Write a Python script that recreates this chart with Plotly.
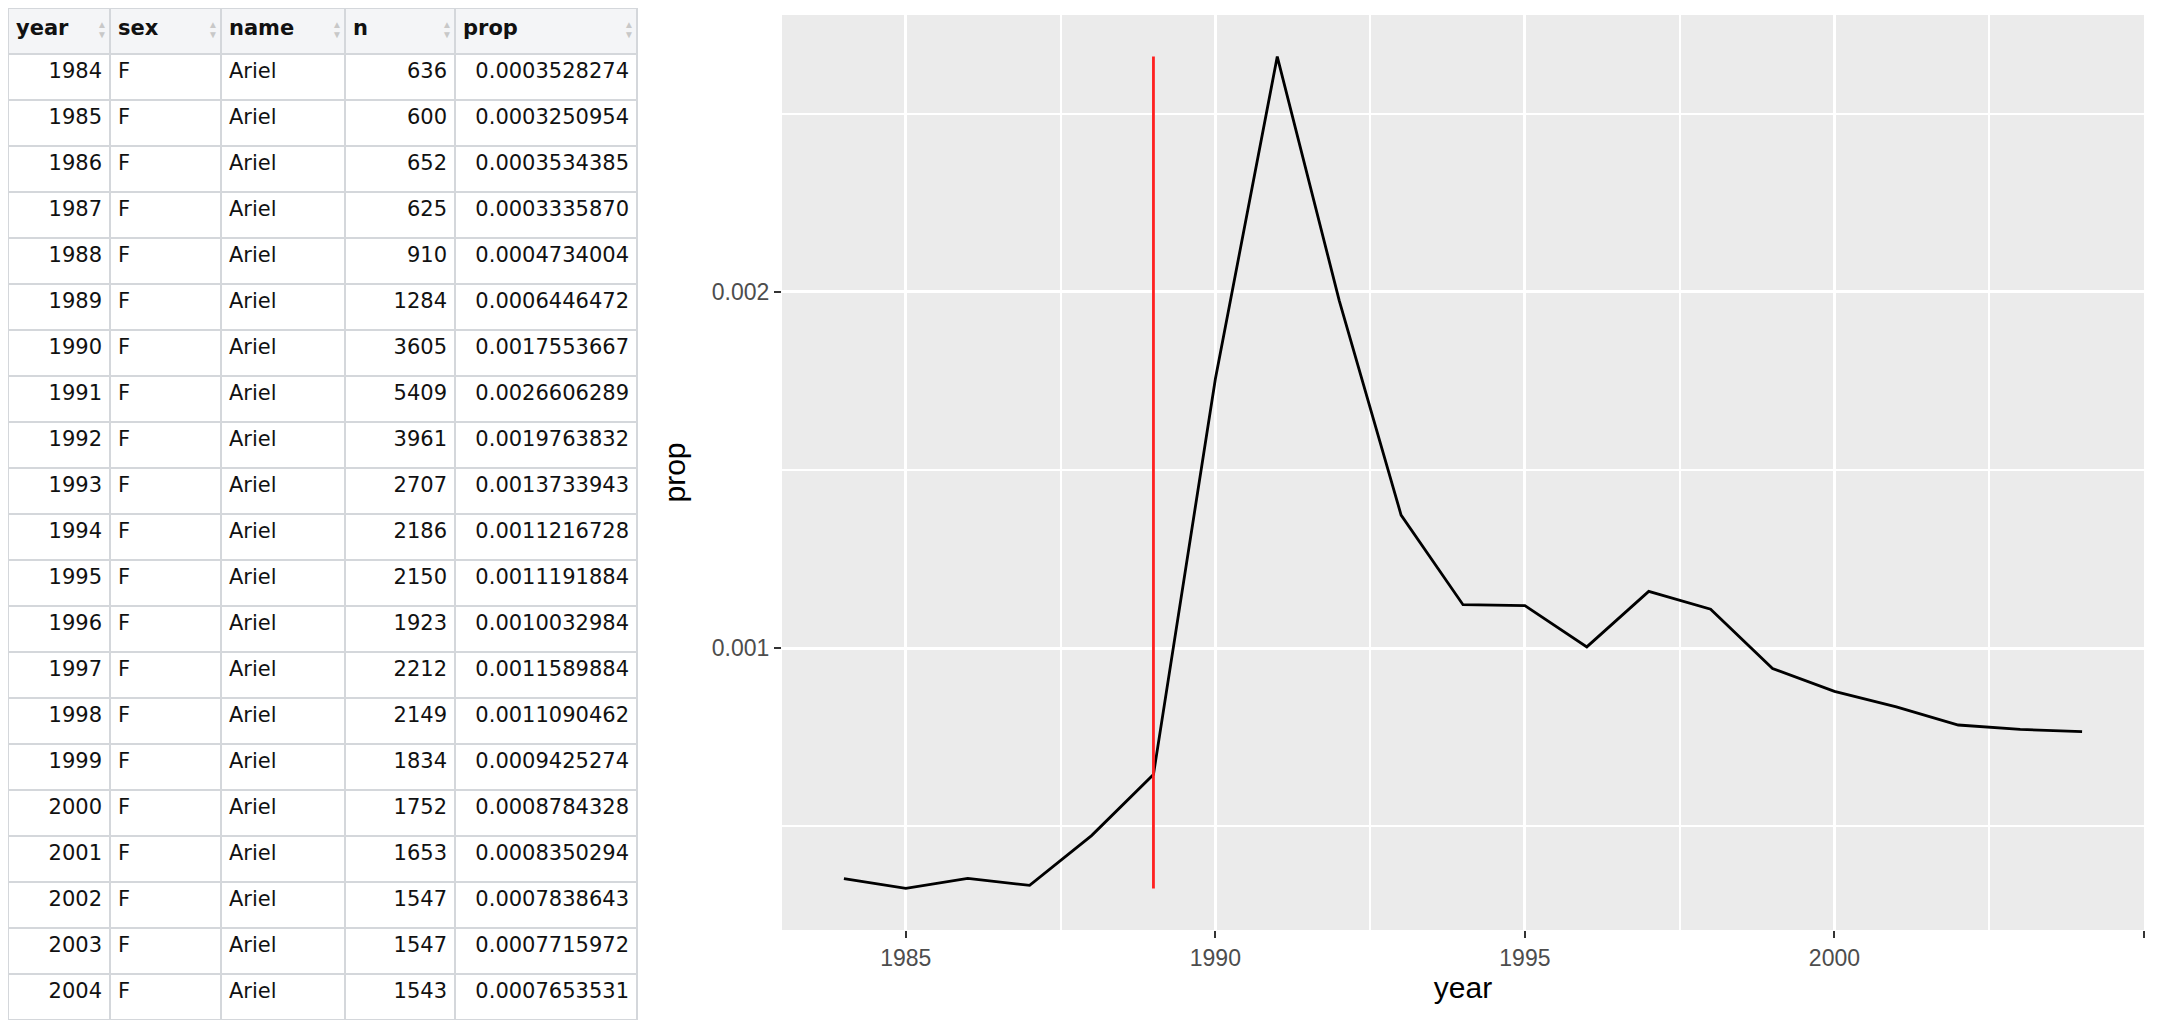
import plotly.graph_objects as go

# The page has an 8 px body margin; the figure is sized/positioned to compensate.
PAGE_OFF = 8
W, H = 2160 - PAGE_OFF, 1020 - PAGE_OFF

year = [1984, 1985, 1986, 1987, 1988, 1989, 1990, 1991, 1992, 1993, 1994,
        1995, 1996, 1997, 1998, 1999, 2000, 2001, 2002, 2003, 2004]
sex = ["F"] * 21
name = ["Ariel"] * 21
n = [636, 600, 652, 625, 910, 1284, 3605, 5409, 3961, 2707, 2186,
     2150, 1923, 2212, 2149, 1834, 1752, 1653, 1547, 1547, 1543]
prop = [0.0003528274, 0.0003250954, 0.0003534385, 0.0003335870, 0.0004734004,
        0.0006446472, 0.0017553667, 0.0026606289, 0.0019763832, 0.0013733943,
        0.0011216728, 0.0011191884, 0.0010032984, 0.0011589884, 0.0011090462,
        0.0009425274, 0.0008784328, 0.0008350294, 0.0007838643, 0.0007715972,
        0.0007653531]
columns = ["year", "sex", "name", "n", "prop"]
x_ticks = [1985, 1990, 1995, 2000, 2005]
y_ticks = [0.001, 0.002]
y_tick_text = ["0.001", "0.002"]
marker_year = 1989

# column widths in page px (first column starts at the page margin)
col_px = [110 - PAGE_OFF, 111, 124, 110, 182]
table_w = sum(col_px)


def px_x(p):  # page x -> paper fraction
    return (p - PAGE_OFF) / W


def px_y(p):  # page y -> paper fraction
    return 1 - (p - PAGE_OFF) / H


fig = go.Figure()

fig.add_trace(go.Table(
    domain=dict(x=[0, table_w / W], y=[0, 1]),
    columnwidth=col_px,
    header=dict(
        values=["<b>%s</b>" % c for c in columns],
        fill_color="#f4f5f7",
        line=dict(color="#d4d7db", width=1.5),
        align="left",
        height=46,
        font=dict(family="DejaVu Sans", size=21, color="#111111"),
    ),
    cells=dict(
        values=[year, sex, name, n, ["%.10f" % p for p in prop]],
        fill_color="white",
        line=dict(color="#d4d7db", width=1.5),
        align=["right", "left", "left", "right", "right"],
        height=46,
        font=dict(family="DejaVu Sans", size=21, color="#111111"),
    ),
))

# sort arrows in header
right = PAGE_OFF
for w in col_px:
    right += w
    for sym, py in (("▲", 15), ("▼", 25)):
        fig.add_annotation(x=px_x(right - 15), y=px_y(py), xref="paper", yref="paper",
                           text=sym, showarrow=False,
                           font=dict(size=10, color="#c8c8c8"))

fig.add_trace(go.Scatter(
    x=year, y=prop, mode="lines",
    line=dict(color="black", width=2.8),
    xaxis="x", yaxis="y", hoverinfo="skip", showlegend=False,
))

fig.add_shape(type="line", xref="x", yref="y",
              x0=marker_year, x1=marker_year, y0=min(prop), y1=max(prop),
              line=dict(color="#ff2020", width=2.8))

xr = [min(year) - 0.05 * (max(year) - min(year)), max(year) + 0.05 * (max(year) - min(year))]
ysp = max(prop) - min(prop)
yr = [min(prop) - 0.05 * ysp, max(prop) + 0.05 * ysp]

axis_font = dict(family="Liberation Sans", size=23, color="#4d4d4d")
title_font = dict(family="Liberation Sans", size=30, color="black")
fig.update_layout(
    width=W, height=H,
    margin=dict(l=0, r=0, t=0, b=0),
    paper_bgcolor="white",
    plot_bgcolor="#ebebeb",
    showlegend=False,
    xaxis=dict(
        domain=[px_x(782), px_x(2144)], range=xr,
        tickvals=x_ticks, ticktext=[str(v) for v in x_ticks],
        ticks="outside", ticklen=7, tickwidth=1.5, tickcolor="#333333",
        showgrid=True, gridcolor="white", gridwidth=3,
        minor=dict(tick0=1982.5, dtick=5, showgrid=True, gridcolor="white", gridwidth=1.5, ticks=""),
        zeroline=False, showline=False, tickfont=axis_font,
        title=dict(text="year", font=title_font, standoff=7),
        anchor="y",
    ),
    yaxis=dict(
        domain=[px_y(930), px_y(15)], range=yr,
        tickvals=y_ticks, ticktext=y_tick_text,
        ticks="outside", ticklen=7, tickwidth=1.5, tickcolor="#333333",
        showgrid=True, gridcolor="white", gridwidth=3,
        minor=dict(tick0=0.0005, dtick=0.001, showgrid=True, gridcolor="white", gridwidth=1.5, ticks=""),
        zeroline=False, showline=False, tickfont=axis_font,
        title=dict(text="prop", font=title_font, standoff=17),
        anchor="x",
    ),
)

fig.write_html("out.html")
